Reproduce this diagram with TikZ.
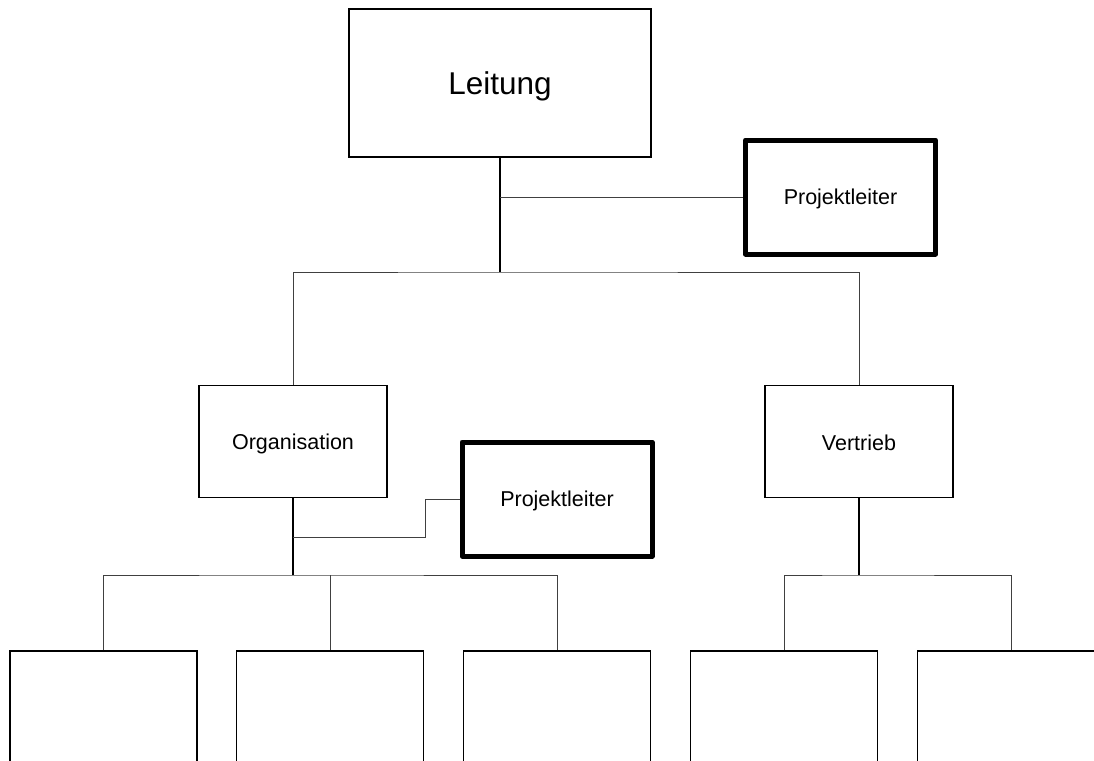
\documentclass[tikz,border=0pt]{standalone}
\usepackage{fontspec}
\setmainfont{Liberation Sans}
% shift a label down without changing the box size TikZ sees
\newcommand{\dropText}[2]{\raisebox{-#1}[\height][\depth]{#2}}
\begin{document}
\begin{tikzpicture}[x=1pt,y=-1pt,
  box/.style={draw=black, line width=1.8pt, rectangle, inner sep=0pt,
    minimum width=188pt, minimum height=112pt,
    font=\fontsize{21.5}{25}\selectfont},
  headbox/.style={box, minimum width=302pt, minimum height=148pt,
    font=\fontsize{31.5}{36}\selectfont},
  pmbox/.style={box, line width=5pt, line join=round,
    minimum width=190pt, minimum height=114pt},
  leaf/.style={box, minimum width=187pt, minimum height=200pt},
  stem/.style={draw=black, line width=1.5pt},
  link/.style={draw=black!75, line width=1pt}]
\useasboundingbox (0,0) rectangle (1094,760);
\clip (0,0) rectangle (1094,760);

% top level and staff position
\node[headbox] (lei) at (500,83) {\dropText{3pt}{Leitung}};
\node[pmbox] (pl1) at (840.5,197) {\dropText{1.5pt}{Projektleiter}};

% departments
\node[box] (org) at (293,441.5) {\dropText{2pt}{Organisation}};
\node[box] (ver) at (859,441.5) {\dropText{1.5pt}{Vertrieb}};
\node[pmbox] (pl2) at (557,499) {\dropText{1.5pt}{Projektleiter}};

% empty units below the departments
\node[leaf] (c1) at (103.5,751) {};
\node[leaf] (c2) at (330,751) {};
\node[leaf] (c3) at (557,751) {};
\node[leaf] (c4) at (784,751) {};
\node[leaf] (c5) at (1011,751) {};

% junction points of the branch lines
\coordinate (j1) at (500,272);
\coordinate (j2) at (293,575);
\coordinate (j3) at (859,575);
\coordinate (pk) at (425,537);

% Leitung branch
\draw[stem] (lei.south) -- (j1);
\draw[link] (lei.south |- pl1.west) -- (pl1.west);
\draw[link] (org.north) |- (j1) -| (ver.north);

% Organisation branch
\draw[stem] (org.south) -- (j2);
\draw[link] (pl2.west) -| (pk) -- (org.south |- pk);
\draw[link] (c1.north) |- (j2) -| (c3.north);
\draw[link] (c2.north) -- (c2.north |- j2);

% Vertrieb branch
\draw[stem] (ver.south) -- (j3);
\draw[link] (c4.north) |- (j3) -| (c5.north);
\end{tikzpicture}
\end{document}
